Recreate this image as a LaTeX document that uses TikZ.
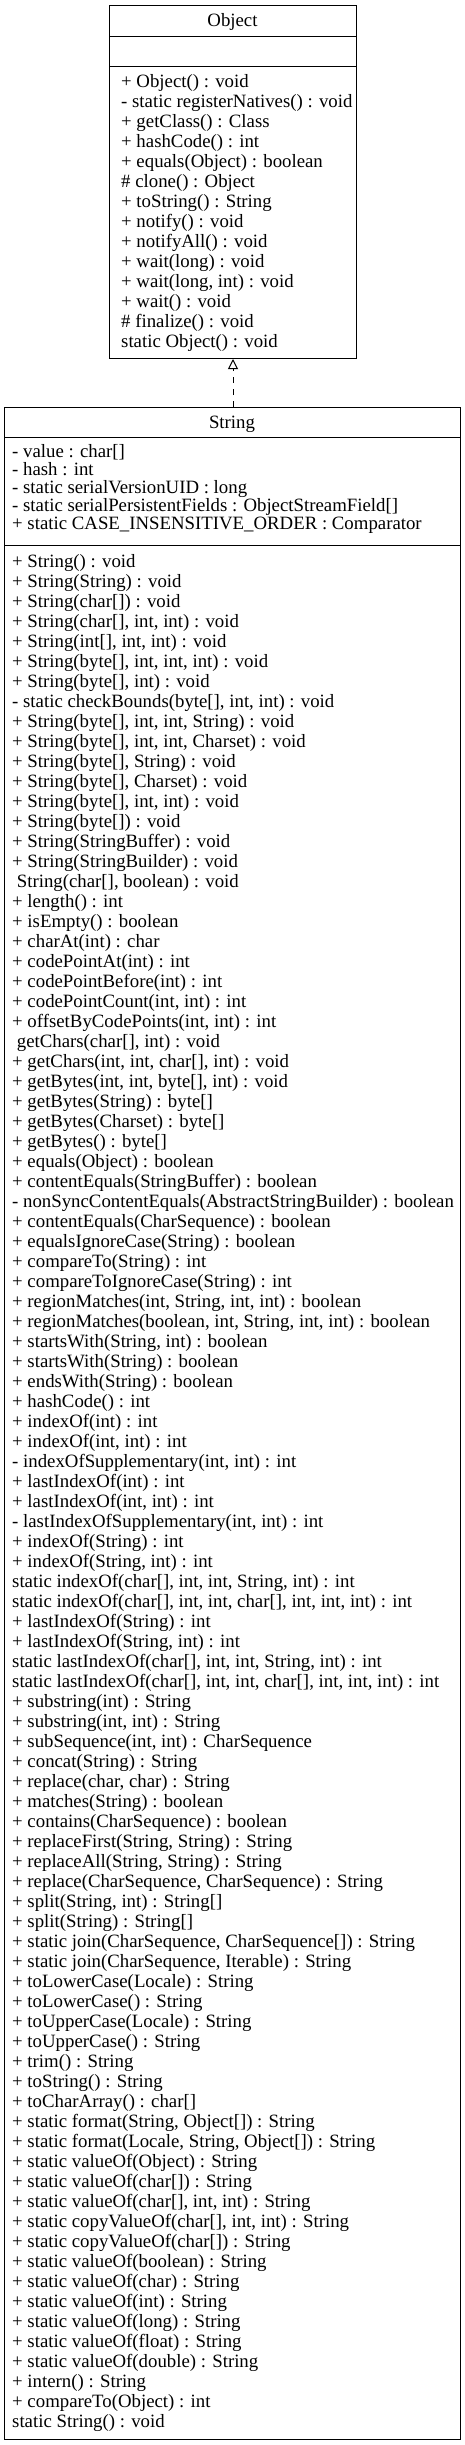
\documentclass[tikz,border=0pt]{standalone}
\usepackage{fontspec}
\setmainfont{Liberation Serif}
\usetikzlibrary{arrows.meta}
\tikzstyle{member}=[anchor=base west, inner sep=0, font=\fontsize{18.8}{20}\selectfont]
\tikzstyle{classbox}=[draw, line width=1pt, anchor=north west, inner sep=0]

\begin{document}
\begin{tikzpicture}[x=1pt, y=-1pt]
	\draw[fill=white, draw=none] (0,0) rectangle (465,2445);

	% Object
	\node[classbox, minimum width=247pt, minimum height=353pt] (obj) at (109,5) {};
	\node[member, anchor=base] (objname) at (232.5,26) {Object};
	\draw[line width=1pt] (109,36) -- (356,36);
	\draw[line width=1pt] (109,66) -- (356,66);
	\foreach \m [count=\i] in {
		{+ Object() : void},
		{- static registerNatives() : void},
		{+ getClass() : Class},
		{+ hashCode() : int},
		{+ equals(Object) : boolean},
		{\# clone() : Object},
		{+ toString() : String},
		{+ notify() : void},
		{+ notifyAll() : void},
		{+ wait(long) : void},
		{+ wait(long, int) : void},
		{+ wait() : void},
		{\# finalize() : void},
		{static Object() : void}} {
		\node[member] (om\i) at (121, {87+20*(\i-1)}) {\m};
	};

	% String
	\node[classbox, minimum width=456pt, minimum height=2032pt] (str) at (4,407) {};
	\node[member, anchor=base] (strname) at (232,428) {String};
	\draw[line width=1pt] (4,437) -- (460,437);
	\draw[line width=1pt] (4,545) -- (460,545);
	\foreach \m [count=\i] in {
		{- value : char[]},
		{- hash : int},
		{- static serialVersionUID : long},
		{- static serialPersistentFields : ObjectStreamField[]},
		{+ static CASE\_INSENSITIVE\_ORDER : Comparator}} {
		\node[member] (sa\i) at (12, {457+18*(\i-1)}) {\m};
	};
	\foreach \m [count=\i] in {
		{+ String() : void},
		{+ String(String) : void},
		{+ String(char[]) : void},
		{+ String(char[], int, int) : void},
		{+ String(int[], int, int) : void},
		{+ String(byte[], int, int, int) : void},
		{+ String(byte[], int) : void},
		{- static checkBounds(byte[], int, int) : void},
		{+ String(byte[], int, int, String) : void},
		{+ String(byte[], int, int, Charset) : void},
		{+ String(byte[], String) : void},
		{+ String(byte[], Charset) : void},
		{+ String(byte[], int, int) : void},
		{+ String(byte[]) : void},
		{+ String(StringBuffer) : void},
		{+ String(StringBuilder) : void},
		{\ String(char[], boolean) : void},
		{+ length() : int},
		{+ isEmpty() : boolean},
		{+ charAt(int) : char},
		{+ codePointAt(int) : int},
		{+ codePointBefore(int) : int},
		{+ codePointCount(int, int) : int},
		{+ offsetByCodePoints(int, int) : int},
		{\ getChars(char[], int) : void},
		{+ getChars(int, int, char[], int) : void},
		{+ getBytes(int, int, byte[], int) : void},
		{+ getBytes(String) : byte[]},
		{+ getBytes(Charset) : byte[]},
		{+ getBytes() : byte[]},
		{+ equals(Object) : boolean},
		{+ contentEquals(StringBuffer) : boolean},
		{- nonSyncContentEquals(AbstractStringBuilder) : boolean},
		{+ contentEquals(CharSequence) : boolean},
		{+ equalsIgnoreCase(String) : boolean},
		{+ compareTo(String) : int},
		{+ compareToIgnoreCase(String) : int},
		{+ regionMatches(int, String, int, int) : boolean},
		{+ regionMatches(boolean, int, String, int, int) : boolean},
		{+ startsWith(String, int) : boolean},
		{+ startsWith(String) : boolean},
		{+ endsWith(String) : boolean},
		{+ hashCode() : int},
		{+ indexOf(int) : int},
		{+ indexOf(int, int) : int},
		{- indexOfSupplementary(int, int) : int},
		{+ lastIndexOf(int) : int},
		{+ lastIndexOf(int, int) : int},
		{- lastIndexOfSupplementary(int, int) : int},
		{+ indexOf(String) : int},
		{+ indexOf(String, int) : int},
		{static indexOf(char[], int, int, String, int) : int},
		{static indexOf(char[], int, int, char[], int, int, int) : int},
		{+ lastIndexOf(String) : int},
		{+ lastIndexOf(String, int) : int},
		{static lastIndexOf(char[], int, int, String, int) : int},
		{static lastIndexOf(char[], int, int, char[], int, int, int) : int},
		{+ substring(int) : String},
		{+ substring(int, int) : String},
		{+ subSequence(int, int) : CharSequence},
		{+ concat(String) : String},
		{+ replace(char, char) : String},
		{+ matches(String) : boolean},
		{+ contains(CharSequence) : boolean},
		{+ replaceFirst(String, String) : String},
		{+ replaceAll(String, String) : String},
		{+ replace(CharSequence, CharSequence) : String},
		{+ split(String, int) : String[]},
		{+ split(String) : String[]},
		{+ static join(CharSequence, CharSequence[]) : String},
		{+ static join(CharSequence, Iterable) : String},
		{+ toLowerCase(Locale) : String},
		{+ toLowerCase() : String},
		{+ toUpperCase(Locale) : String},
		{+ toUpperCase() : String},
		{+ trim() : String},
		{+ toString() : String},
		{+ toCharArray() : char[]},
		{+ static format(String, Object[]) : String},
		{+ static format(Locale, String, Object[]) : String},
		{+ static valueOf(Object) : String},
		{+ static valueOf(char[]) : String},
		{+ static valueOf(char[], int, int) : String},
		{+ static copyValueOf(char[], int, int) : String},
		{+ static copyValueOf(char[]) : String},
		{+ static valueOf(boolean) : String},
		{+ static valueOf(char) : String},
		{+ static valueOf(int) : String},
		{+ static valueOf(long) : String},
		{+ static valueOf(float) : String},
		{+ static valueOf(double) : String},
		{+ intern() : String},
		{+ compareTo(Object) : int},
		{static String() : void}} {
		\node[member] (sm\i) at (12, {567+20*(\i-1)}) {\m};
	};

	\draw[line width=1pt, dash pattern=on 6pt off 6pt, -{Triangle[open, length=10pt, width=10pt]}]
		(obj.south |- str.north) -- (obj.south);
\end{tikzpicture}
\end{document}
